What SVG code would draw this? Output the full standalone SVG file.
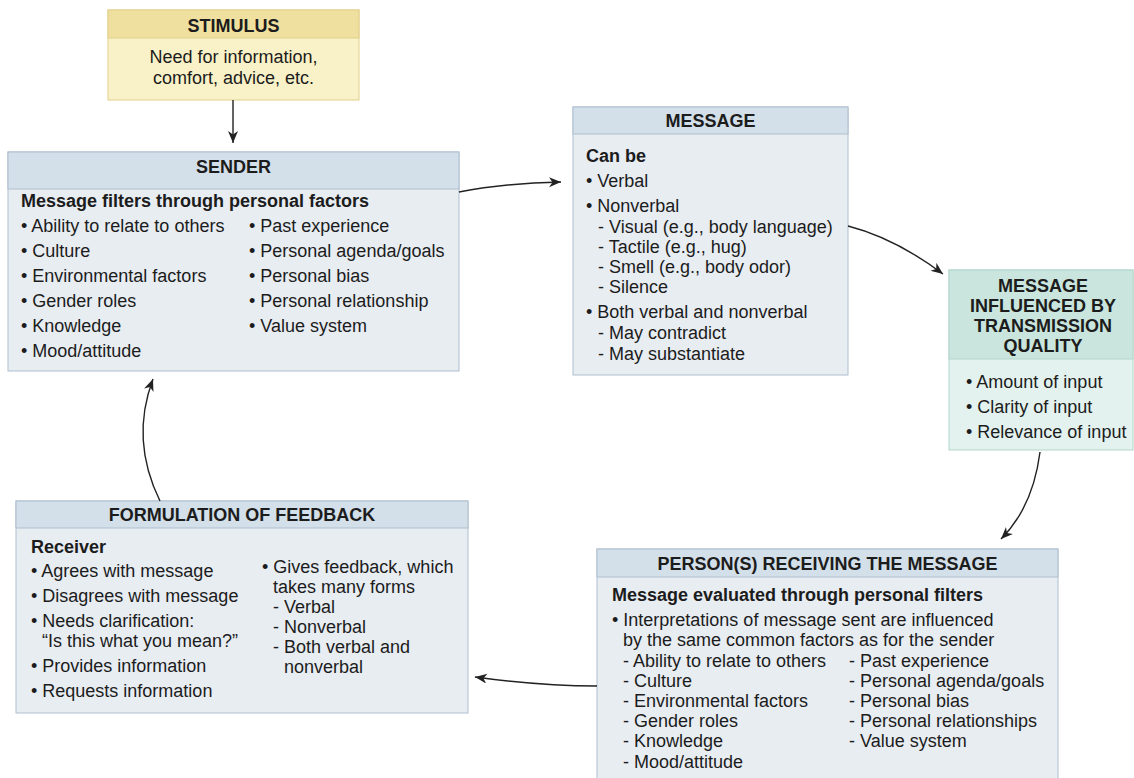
<svg xmlns="http://www.w3.org/2000/svg" width="1134" height="778" viewBox="0 0 1134 778">
<style>
text{font-family:"Liberation Sans",Arial,sans-serif;font-size:18px;fill:#1c1c1c}
.h{font-weight:bold;text-anchor:middle}
.b{font-weight:bold}
.c{text-anchor:middle}
.bluehead{fill:#d3dfe9;stroke:#aebfcf;stroke-width:1}
.bluebody{fill:#e8edf2;stroke:#aebfcf;stroke-width:1}
.yhead{fill:#efe09f;stroke:#e2cf8a;stroke-width:1}
.ybody{fill:#f9f2c8;stroke:#e2cf8a;stroke-width:1}
.thead{fill:#c9e5dd;stroke:#b2d6cb;stroke-width:1}
.tbody{fill:#e3f2ee;stroke:#b2d6cb;stroke-width:1}
.conn{fill:none;stroke:#222;stroke-width:1.4;marker-end:url(#ah)}
</style>
<defs>
<marker id="ah" markerUnits="userSpaceOnUse" markerWidth="14" markerHeight="12" refX="12" refY="5" orient="auto">
<path d="M0,0 L12,5 L0,10 L3.5,5 Z" fill="#222"/>
</marker>
</defs>
<rect width="1134" height="778" fill="#ffffff"/>

<g id="stimulus">
<rect class="ybody" x="108" y="10" width="251" height="90"/>
<rect class="yhead" x="108" y="10" width="251" height="28"/>
<text class="h" x="233.5" y="32">STIMULUS</text>
<text class="c" x="233.5" y="63">Need for information,</text>
<text class="c" x="233.5" y="84">comfort, advice, etc.</text>
</g>

<g id="sender">
<rect class="bluebody" x="8" y="152" width="451" height="219"/>
<rect class="bluehead" x="8" y="152" width="451" height="37"/>
<text class="h" x="233.5" y="173">SENDER</text>
<text class="b" x="21" y="207">Message filters through personal factors</text>
<text x="21" y="232">• Ability to relate to others</text>
<text x="21" y="257">• Culture</text>
<text x="21" y="282">• Environmental factors</text>
<text x="21" y="307">• Gender roles</text>
<text x="21" y="332">• Knowledge</text>
<text x="21" y="357">• Mood/attitude</text>
<text x="249" y="232">• Past experience</text>
<text x="249" y="257">• Personal agenda/goals</text>
<text x="249" y="282">• Personal bias</text>
<text x="249" y="307">• Personal relationship</text>
<text x="249" y="332">• Value system</text>
</g>

<g id="message">
<rect class="bluebody" x="573" y="107" width="275" height="268"/>
<rect class="bluehead" x="573" y="107" width="275" height="27"/>
<text class="h" x="710.5" y="127">MESSAGE</text>
<text class="b" x="586" y="162">Can be</text>
<text x="586" y="187">• Verbal</text>
<text x="586" y="212">• Nonverbal</text>
<text x="598" y="233">- Visual (e.g., body language)</text>
<text x="598" y="253">- Tactile (e.g., hug)</text>
<text x="598" y="273">- Smell (e.g., body odor)</text>
<text x="598" y="293">- Silence</text>
<text x="586" y="318">• Both verbal and nonverbal</text>
<text x="598" y="339">- May contradict</text>
<text x="598" y="360">- May substantiate</text>
</g>

<g id="transmission">
<rect class="tbody" x="949" y="270" width="184" height="180"/>
<rect class="thead" x="949" y="270" width="184" height="89"/>
<text class="h" x="1043" y="292">MESSAGE</text>
<text class="h" x="1043" y="312">INFLUENCED BY</text>
<text class="h" x="1043" y="332">TRANSMISSION</text>
<text class="h" x="1043" y="352">QUALITY</text>
<text x="966" y="388">• Amount of input</text>
<text x="966" y="413">• Clarity of input</text>
<text x="966" y="438">• Relevance of input</text>
</g>

<g id="receiving">
<rect class="bluebody" x="597" y="549" width="461" height="240"/>
<rect class="bluehead" x="597" y="549" width="461" height="28"/>
<text class="h" x="827.5" y="570">PERSON(S) RECEIVING THE MESSAGE</text>
<text class="b" x="612" y="601">Message evaluated through personal filters</text>
<text x="612" y="626">• Interpretations of message sent are influenced</text>
<text x="623" y="646">by the same common factors as for the sender</text>
<text x="623" y="667">- Ability to relate to others</text>
<text x="623" y="687">- Culture</text>
<text x="623" y="707">- Environmental factors</text>
<text x="623" y="727">- Gender roles</text>
<text x="623" y="747">- Knowledge</text>
<text x="623" y="768">- Mood/attitude</text>
<text x="849" y="667">- Past experience</text>
<text x="849" y="687">- Personal agenda/goals</text>
<text x="849" y="707">- Personal bias</text>
<text x="849" y="727">- Personal relationships</text>
<text x="849" y="747">- Value system</text>
</g>

<g id="feedback">
<rect class="bluebody" x="16" y="501" width="452" height="212"/>
<rect class="bluehead" x="16" y="501" width="452" height="27"/>
<text class="h" x="242" y="521">FORMULATION OF FEEDBACK</text>
<text class="b" x="31" y="553">Receiver</text>
<text x="31" y="577">• Agrees with message</text>
<text x="31" y="602">• Disagrees with message</text>
<text x="31" y="627">• Needs clarification:</text>
<text x="42" y="647">“Is this what you mean?”</text>
<text x="31" y="672">• Provides information</text>
<text x="31" y="697">• Requests information</text>
<text x="262" y="573">• Gives feedback, which</text>
<text x="273" y="593">takes many forms</text>
<text x="273" y="613">- Verbal</text>
<text x="273" y="633">- Nonverbal</text>
<text x="273" y="653">- Both verbal and</text>
<text x="284" y="673">nonverbal</text>
</g>

<g id="connectors">
<path class="conn" d="M233,100 L233,143"/>
<path class="conn" d="M459,192 Q505,183 561,182"/>
<path class="conn" d="M848,226 Q895,238 943,274"/>
<path class="conn" d="M1040,452 Q1033,507 1001,539"/>
<path class="conn" d="M597,686 Q540,686 475,677"/>
<path class="conn" d="M160,501 Q130,440 153,379"/>
</g>
</svg>
